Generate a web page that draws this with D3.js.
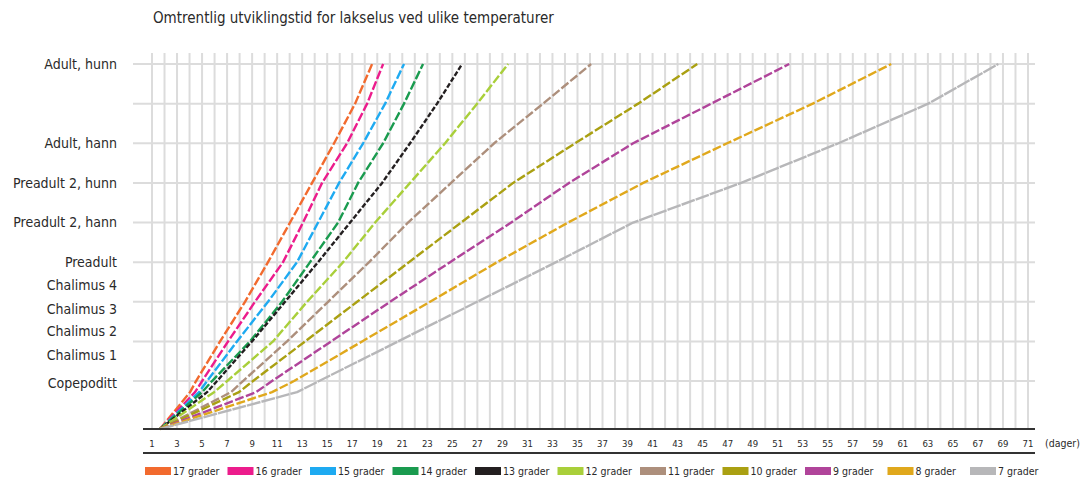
<!DOCTYPE html>
<html>
<head>
<meta charset="utf-8">
<script src="https://cdn.jsdelivr.net/npm/d3@7"></script>
<style>
  html, body { margin: 0; padding: 0; background: #fff; }
  svg { display: block; }
  text { font-family: "DejaVu Sans Condensed", "DejaVu Sans", sans-serif; fill: #2a2a2a; }
</style>
</head>
<body>
<svg id="chart" width="1083" height="486"></svg>
<script>
// ---------- DATA ----------
const title = "Omtrentlig utviklingstid for lakselus ved ulike temperaturer";
const seriesNames = ["17 grader","16 grader","15 grader","14 grader","13 grader","12 grader","11 grader","10 grader","9 grader","8 grader","7 grader"];
const seriesColors = ["#f26a2e","#ec1c8c","#1eaaf1","#1a9b4f","#231f20","#a9cf3a","#ad8f7c","#aaa012","#b0449a","#e0a81c","#b7b7b9"];
// stage level of each vertex (axis = -0.21, gridlines at 1..9)
const levels = [-0.21, 0.72, 1, 2, 3, 4, 5, 6, 7, 8, 9];
// days to reach each level, per temperature
const d17 = [1.64, 4.04, 4.52, 6.44, 8.43, 10.27, 12.03, 13.79, 15.55, 17.23, 18.59];
const d16 = [1.64, 4.44, 5.00, 7.08, 9.23, 11.47, 13.07, 14.59, 16.59, 18.19, 19.47];
const d15 = [1.64, 4.76, 5.40, 7.79, 10.27, 12.59, 14.27, 15.95, 17.87, 19.63, 21.14];
const d14 = [1.64, 5.00, 5.80, 8.83, 11.39, 13.63, 15.87, 17.47, 19.47, 21.14, 22.66];
const d13 = [1.64, 5.40, 6.20, 8.99, 11.63, 14.27, 16.83, 19.39, 21.62, 23.78, 25.78];
const d12 = [1.64, 5.96, 7.00, 10.67, 13.39, 16.27, 18.83, 21.62, 24.42, 26.98, 29.46];
const d11 = [1.64, 7.31, 8.27, 11.79, 15.07, 18.35, 21.46, 24.90, 28.34, 32.25, 36.09];
const d10 = [1.64, 7.95, 9.07, 13.23, 17.39, 21.54, 25.70, 29.86, 34.81, 39.85, 44.57];
const d9  = [1.64, 9.31, 10.59, 15.31, 20.02, 24.82, 29.70, 34.33, 39.45, 45.69, 51.92];
const d8  = [1.64, 10.59, 12.35, 17.79, 23.22, 28.58, 34.25, 40.25, 46.96, 53.80, 60.07];
const d7  = [1.64, 12.59, 14.35, 20.66, 26.98, 33.29, 39.45, 48.08, 55.85, 63.03, 68.63];
const seriesDays = [d17, d16, d15, d14, d13, d12, d11, d10, d9, d8, d7];

const stageLabels = ["Copepoditt","Chalimus 1","Chalimus 2","Chalimus 3","Chalimus 4","Preadult","Preadult 2, hann","Preadult 2, hunn","Adult, hann","Adult, hunn"];
const stageLabelLevels = [0.96, 1.66, 2.26, 2.82, 3.42, 4.0, 5.0, 6.0, 7.0, 9.0];
const gridLevels = [1, 2, 3, 4, 5, 6, 7, 8, 9];
const dayGrid = d3.range(1, 72);
const dayTicks = d3.range(1, 72, 2);
const xUnit = "(dager)";

// ---------- CHART ----------
const svg = d3.select("#chart");
const x = d3.scaleLinear().domain([1, 71]).range([152, 1028]);
const y = d3.scaleLinear().domain([-0.21, 9]).range([429, 64]);
const gridColor = "#dcdcdc";
const xLeft = 133, xRight = 1035, gridTop = 53;

svg.append("text").attr("x", 153).attr("y", 23)
  .attr("font-size", 15).attr("fill", "#222").text(title);

// vertical grid
svg.append("g").selectAll("line").data(dayGrid).join("line")
  .attr("x1", d => x(d)).attr("x2", d => x(d))
  .attr("y1", gridTop).attr("y2", y(-0.21))
  .attr("stroke", gridColor).attr("stroke-width", 2);

// horizontal grid
svg.append("g").selectAll("line").data(gridLevels).join("line")
  .attr("x1", xLeft).attr("x2", xRight)
  .attr("y1", d => y(d)).attr("y2", d => y(d))
  .attr("stroke", gridColor).attr("stroke-width", 2);

// stage labels
svg.append("g").selectAll("text").data(stageLabels).join("text")
  .attr("x", 117).attr("y", (d, i) => y(stageLabelLevels[i]))
  .attr("dy", "0.35em").attr("text-anchor", "end")
  .attr("font-size", 14).attr("fill", "#333").text(d => d);

// lines
const line = d3.line().x(d => x(d[0])).y(d => y(d[1]));
seriesDays.forEach((arr, i) => {
  const pts = arr.map((d, k) => [d, levels[k]]);
  svg.append("path").datum(pts)
    .attr("d", line)
    .attr("fill", "none")
    .attr("stroke", seriesColors[i])
    .attr("stroke-width", 2.4)
    .attr("stroke-linejoin", "round")
    .attr("stroke-dasharray", i === 10 ? "14,1" : (i === 4 ? "5,2" : "9,2.5"));
});

// axis lines
svg.append("line").attr("x1", 143).attr("x2", xRight).attr("y1", y(-0.21)).attr("y2", y(-0.21))
  .attr("stroke", "#333").attr("stroke-width", 2);
svg.append("line").attr("x1", 143).attr("x2", xRight).attr("y1", 453).attr("y2", 453)
  .attr("stroke", "#333").attr("stroke-width", 2);

// x tick labels
svg.append("g").selectAll("text").data(dayTicks).join("text")
  .attr("x", d => x(d)).attr("y", 446.5).attr("text-anchor", "middle")
  .attr("font-size", 9.5).text(d => d);
svg.append("text").attr("x", 1045).attr("y", 446.5).attr("font-size", 10.5).text(xUnit);

// legend
const lg = svg.append("g").selectAll("g").data(seriesNames).join("g")
  .attr("transform", (d, i) => `translate(${145 + i * 82.5},471)`);
lg.append("rect").attr("x", 0).attr("y", -4).attr("width", 26).attr("height", 8)
  .attr("fill", (d, i) => seriesColors[i]);
lg.append("text").attr("x", 28).attr("y", 0).attr("dy", "0.35em")
  .attr("font-size", 10.5).text(d => d);
</script>
</body>
</html>
